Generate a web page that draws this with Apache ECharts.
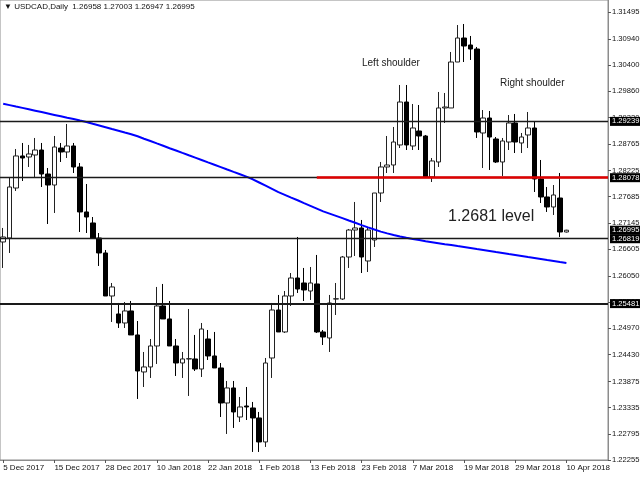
<!DOCTYPE html>
<html>
<head>
<meta charset="utf-8">
<script src="https://cdn.jsdelivr.net/npm/echarts@6/dist/echarts.min.js"></script>
<style>html,body{margin:0;padding:0;background:#fff}#c{width:640px;height:480px}</style>
</head>
<body>
<div id="c"></div>
<script>
const dates = [
'2017-12-05','2017-12-06','2017-12-07','2017-12-08','2017-12-11','2017-12-12','2017-12-13','2017-12-14','2017-12-15',
'2017-12-18','2017-12-19','2017-12-20','2017-12-21','2017-12-22','2017-12-26','2017-12-27','2017-12-28','2017-12-29',
'2018-01-02','2018-01-03','2018-01-04','2018-01-05','2018-01-08','2018-01-09','2018-01-10','2018-01-11','2018-01-12',
'2018-01-15','2018-01-16','2018-01-17','2018-01-18','2018-01-19','2018-01-22','2018-01-23','2018-01-24','2018-01-25',
'2018-01-26','2018-01-29','2018-01-30','2018-01-31','2018-02-01','2018-02-02','2018-02-05','2018-02-06','2018-02-07',
'2018-02-08','2018-02-09','2018-02-12','2018-02-13','2018-02-14','2018-02-15','2018-02-16','2018-02-19','2018-02-20',
'2018-02-21','2018-02-22','2018-02-23','2018-02-26','2018-02-27','2018-02-28','2018-03-01','2018-03-02','2018-03-05',
'2018-03-06','2018-03-07','2018-03-08','2018-03-09','2018-03-12','2018-03-13','2018-03-14','2018-03-15','2018-03-16',
'2018-03-19','2018-03-20','2018-03-21','2018-03-22','2018-03-23','2018-03-26','2018-03-27','2018-03-28','2018-03-29',
'2018-03-30','2018-04-02','2018-04-03','2018-04-04','2018-04-05','2018-04-06','2018-04-09','2018-04-10'
];
const open = [
1.26752,1.26834,1.27865,1.28526,1.28505,1.28546,1.28649,1.28154,1.27927,1.28690,
1.28608,1.28732,1.28299,1.27371,1.27144,1.26834,1.26525,1.25638,1.25267,1.25081,
1.25329,1.24834,1.24071,1.24174,1.24607,1.25432,1.25164,1.24607,1.24256,1.24339,
1.24339,1.24132,1.24751,1.24401,1.24153,1.23431,1.23741,1.23142,1.23369,1.23328,
1.23122,1.22627,1.24359,1.25349,1.24896,1.25638,1.26009,1.25906,1.25741,1.25886,
1.24896,1.24772,1.25576,1.25576,1.26442,1.26999,1.27041,1.26360,1.26793,1.27762,
1.28299,1.28340,1.28753,1.29639,1.28732,1.29041,1.28938,1.28092,1.28402,1.29516,
1.29516,1.30464,1.30959,1.30815,1.30732,1.29000,1.29309,1.28876,1.28402,1.28814,
1.29206,1.28794,1.28959,1.29103,1.28051,1.27680,1.27474,1.27659,1.26958
];
const close = [
1.26855,1.27886,1.28526,1.28484,1.28567,1.28649,1.28154,1.27927,1.28711,1.28608,
1.28732,1.28299,1.27371,1.27267,1.26834,1.26525,1.25638,1.25824,1.25081,1.25329,
1.24834,1.24091,1.24174,1.24607,1.25432,1.25164,1.24607,1.24256,1.24339,1.24345,
1.24132,1.24957,1.24401,1.24153,1.23431,1.23741,1.23246,1.23349,1.23349,1.23122,
1.22627,1.24256,1.25349,1.24896,1.25638,1.26009,1.25782,1.25762,1.25906,1.24896,
1.24792,1.25494,1.25580,1.26442,1.26999,1.27041,1.26442,1.26999,1.27762,1.28299,
1.28340,1.28814,1.29639,1.28753,1.29103,1.28938,1.28092,1.28423,1.29516,1.29536,
1.30464,1.30959,1.30794,1.30732,1.29021,1.29309,1.28917,1.28402,1.28835,1.29206,
1.28814,1.28917,1.29103,1.28051,1.27680,1.27474,1.27721,1.26958,1.26995
];
const low = [
1.26216,1.26525,1.27804,1.28010,1.28299,1.28092,1.27886,1.27123,1.27350,1.28402,
1.28484,1.28175,1.26958,1.26937,1.26834,1.26257,1.25638,1.25102,1.24978,1.24978,
1.24834,1.23514,1.23761,1.23947,1.24236,1.25164,1.24607,1.23988,1.23947,1.23576,
1.24091,1.23967,1.24318,1.24153,1.23142,1.22792,1.22916,1.23039,1.23080,1.22421,
1.22421,1.22524,1.23947,1.24896,1.24875,1.25432,1.25700,1.25535,1.25556,1.24875,
1.24627,1.24483,1.25246,1.25556,1.26216,1.26463,1.26112,1.26133,1.26649,1.27577,
1.28175,1.28175,1.28690,1.28649,1.28649,1.28649,1.28092,1.27989,1.28299,1.29206,
1.29516,1.30464,1.30464,1.30506,1.28897,1.28278,1.28237,1.28381,1.28113,1.28649,
1.28587,1.28587,1.28690,1.27783,1.27556,1.27371,1.27309,1.26855,1.26947
];
const high = [
1.27041,1.28072,1.28670,1.28794,1.28753,1.28897,1.28794,1.28278,1.28938,1.28794,
1.29186,1.28794,1.28381,1.27948,1.27267,1.26937,1.26587,1.25906,1.25494,1.25514,
1.25535,1.25122,1.24483,1.24751,1.25824,1.25886,1.25535,1.24751,1.24483,1.25370,
1.24834,1.25081,1.24937,1.24896,1.24256,1.23885,1.23885,1.23555,1.23761,1.23452,
1.23246,1.24359,1.25494,1.25659,1.25741,1.26112,1.26855,1.26216,1.26236,1.26484,
1.24937,1.25659,1.25906,1.26463,1.27020,1.27577,1.27206,1.27041,1.27762,1.28402,
1.28938,1.29124,1.29990,1.29990,1.29598,1.29577,1.28959,1.28484,1.29846,1.29825,
1.30671,1.31227,1.31248,1.31001,1.30774,1.29474,1.29454,1.28917,1.28897,1.29371,
1.29392,1.29000,1.29433,1.29227,1.28443,1.27886,1.27927,1.28175,1.27003
];
const ma = [
1.29604,1.29575,1.29546,1.29518,1.29489,1.29460,1.29431,1.29402,1.29373,1.29344,
1.29315,1.29287,1.29256,1.29227,1.29190,1.29155,1.29120,1.29082,1.29047,1.29010,
1.28975,1.28932,1.28882,1.28835,1.28785,1.28736,1.28686,1.28639,1.28589,1.28540,
1.28492,1.28443,1.28394,1.28346,1.28297,1.28247,1.28198,1.28150,1.28101,1.28045,
1.27979,1.27913,1.27847,1.27781,1.27725,1.27667,1.27612,1.27554,1.27498,1.27441,
1.27383,1.27337,1.27290,1.27243,1.27195,1.27148,1.27100,1.27053,1.27008,1.26966,
1.26929,1.26896,1.26865,1.26838,1.26814,1.26791,1.26768,1.26748,1.26727,1.26706,
1.26688,1.26667,1.26647,1.26626,1.26605,1.26585,1.26564,1.26543,1.26523,1.26502,
1.26482,1.26461,1.26440,1.26420,1.26399,1.26378,1.26358,1.26337,1.26317
];
const lastBar = [1.26958, 1.27003, 1.26947, 1.26995];
const yTicks = [1.31495,1.30940,1.30400,1.29860,1.29320,1.28765,1.28225,1.27685,1.27145,1.26605,1.26050,1.25510,1.24970,1.24430,1.23875,1.23335,1.22795,1.22255];
const xTickIdx = [0, 8, 16, 24, 32, 40, 48, 56, 64, 72, 80, 88];
const levels = [1.29239, 1.28078, 1.26819, 1.25481];
const bidPrice = 1.26995;
const redLevel = 1.28078;
const redStartIndex = 49;
const annotations = [
  {text: 'Left shoulder', x: 362, y: 58, size: 10},
  {text: 'Right shoulder', x: 500, y: 78, size: 10},
  {text: '1.2681 level', x: 448, y: 209, size: 16}
];

const months = ['Jan','Feb','Mar','Apr','May','Jun','Jul','Aug','Sep','Oct','Nov','Dec'];
const xMin = -0.5, xMax = 94.5;   // 89 bars plus empty chart shift on the right
const candles = dates.map((d, i) => [i, open[i], close[i], low[i], high[i]]);
const maData = ma.map((v, i) => [i, v]);
const FONT = 'Liberation Sans';
const YFS = 7.6;

const hlLabel = {
  show: true, position: 'end', distance: 2,
  formatter: p => p.value.toFixed(5),
  color: '#fff', backgroundColor: '#000', padding: [1, 1, 0, 2],
  fontSize: YFS, fontFamily: FONT, opacity: 1
};

const markData = levels.map((v, k) => ({
  yAxis: v,
  lineStyle: {color: '#1a1a1a', width: k === 3 ? 2 : 1.4, type: 'solid'},
  label: hlLabel
}));
markData.push({yAxis: bidPrice, lineStyle: {color: 'rgba(0,0,0,0)', width: 1}, label: hlLabel});
markData.push([
  {coord: [redStartIndex, redLevel], lineStyle: {color: '#e00000', width: 2.5, type: 'solid'}, label: {show: false}},
  {coord: [xMax, redLevel]}
]);

const fmtDate = (v) => {
  const d = dates[Math.round(v)];
  if (!d) return '';
  const p = d.split('-');
  return (+p[2]) + ' ' + months[+p[1] - 1] + ' ' + p[0];
};

const chart = echarts.init(document.getElementById('c'), null, {renderer: 'canvas'});
chart.setOption({
  animation: false,
  backgroundColor: '#fff',
  grid: {left: 0, top: 0, width: 608, height: 460, outerBoundsMode: 'none', containLabel: false, show: true, borderColor: '#8c8c8c', borderWidth: 1, backgroundColor: 'transparent'},
  xAxis: {
    type: 'value', min: xMin, max: xMax,
    axisLine: {show: true, onZero: false, lineStyle: {color: '#8c8c8c'}},
    axisTick: {show: true, customValues: xTickIdx, length: 3, lineStyle: {color: '#555'}},
    axisLabel: {customValues: xTickIdx, align: 'left', margin: 4, fontSize: 8, fontFamily: FONT, color: '#111', formatter: fmtDate},
    splitLine: {show: false}
  },
  yAxis: {
    type: 'value', position: 'right', min: 1.22255, max: 1.31743, scale: true,
    axisLine: {show: true, onZero: false, lineStyle: {color: '#8c8c8c'}},
    axisTick: {show: true, customValues: yTicks, length: 3, lineStyle: {color: '#555'}},
    axisLabel: {customValues: yTicks, formatter: v => v.toFixed(5), margin: 4, fontSize: YFS, fontFamily: FONT, color: '#111'},
    splitLine: {show: false}
  },
  series: [
    {
      type: 'candlestick', data: candles, barWidth: 5,
      itemStyle: {color: '#ffffff', color0: '#000000', borderColor: '#222', borderColor0: '#000', borderWidth: 1}
    },
    {
      type: 'line', data: maData, showSymbol: false, symbol: 'none', clip: false,
      lineStyle: {color: '#0000ff', width: 2}, z: 3,
      markLine: {silent: true, symbol: ['none', 'none'], precision: 5, animation: false, data: markData}
    }
  ],
  graphic: [
    {type: 'text', left: 4, top: 3, style: {text: '\u25BC USDCAD,Daily  ' + lastBar.map(v => v.toFixed(5)).join(' '), fontSize: 8, fontFamily: FONT, fill: '#111'}}
  ].concat(annotations.map(a => ({type: 'text', left: a.x, top: a.y, style: {text: a.text, fontSize: a.size, fontFamily: FONT, fill: '#222'}})))
});
</script>
</body>
</html>
